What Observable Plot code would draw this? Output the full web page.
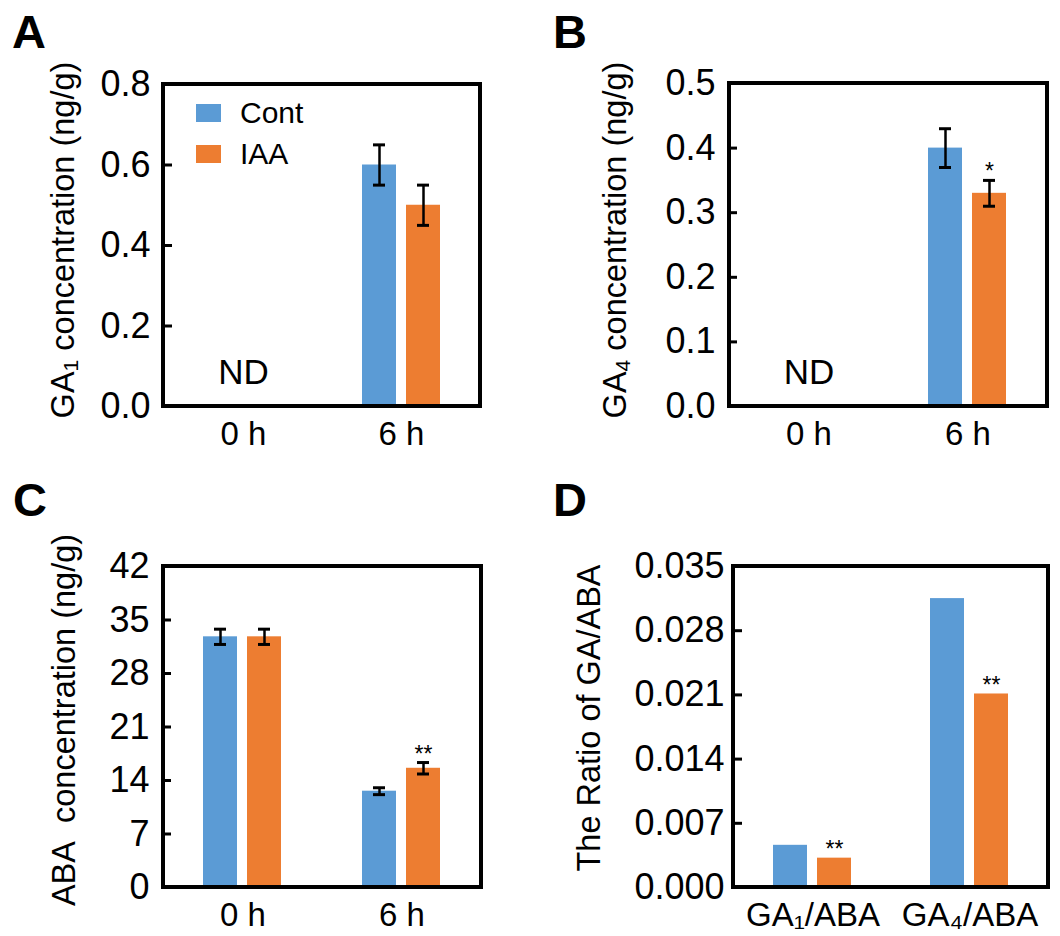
<!DOCTYPE html>
<html>
<head>
<meta charset="utf-8">
<script src="https://cdn.jsdelivr.net/npm/d3@7"></script>
<script src="https://cdn.jsdelivr.net/npm/@observablehq/plot@0.6"></script>
<style>
  html, body { margin: 0; padding: 0; background: #fff; }
  #root { position: relative; width: 1060px; height: 936px; background: #fff; font-family: "Liberation Sans", Arial, sans-serif; color: #000; overflow: hidden; }
  .panel { position: absolute; }
  .letter { position: absolute; font-weight: bold; font-size: 47px; line-height: 1; }
  .ylab { position: absolute; font-size: 32.5px; white-space: nowrap; transform: translate(-50%, -50%) rotate(-90deg); line-height: 1; }
  .legend { position: absolute; font-size: 30px; line-height: 1; }
  .legend .row { display: flex; align-items: center; height: 41px; }
  .legend .sw { width: 25px; height: 18px; margin-right: 19px; }
</style>
</head>
<body>
<div id="root"></div>
<script>
// ---------- data ----------
const seriesNames = ["Cont", "IAA"];
const seriesColors = ["#5B9BD5", "#ED7D31"];
const timeGroups = ["0 h", "6 h"];

// Panel A: GA1 concentration (ng/g); 0 h not detected (ND)
const gaGroups = ["6 h", "6 h"];
const gaSeries = ["Cont", "IAA"];
const ga1Mean = [0.60, 0.50];
const ga1Err = [0.05, 0.05];
const ga1Sig = ["", ""];
const ga1Ticks = [0, 0.2, 0.4, 0.6, 0.8];

// Panel B: GA4 concentration (ng/g); 0 h not detected (ND)
const ga4Mean = [0.40, 0.33];
const ga4Err = [0.03, 0.02];
const ga4Sig = ["", "*"];
const ga4Ticks = [0, 0.1, 0.2, 0.3, 0.4, 0.5];

// Panel C: ABA concentration (ng/g)
const abaGroups = ["0 h", "0 h", "6 h", "6 h"];
const abaSeries = ["Cont", "IAA", "Cont", "IAA"];
const abaMean = [32.8, 32.8, 12.6, 15.6];
const abaErr = [1.0, 1.0, 0.45, 0.75];
const abaSig = ["", "", "", "**"];
const abaTicks = [0, 7, 14, 21, 28, 35, 42];

// Panel D: ratio of GA/ABA
const ratioGroupNames = ["GA\u2081/ABA", "GA\u2084/ABA"];
const ratioGroups = ["GA\u2081/ABA", "GA\u2081/ABA", "GA\u2084/ABA", "GA\u2084/ABA"];
const ratioSeries = ["Cont", "IAA", "Cont", "IAA"];
const ratioMean = [0.0046, 0.0032, 0.0315, 0.0211];
const ratioSig = ["", "**", "", "**"];
const ratioTicks = [0, 0.007, 0.014, 0.021, 0.028, 0.035];

function rows(groups, series, mean, err, sig) {
  return groups.map((g, i) => ({group: g, series: series[i], mean: mean[i], err: err ? err[i] : null, sig: sig[i]}));
}

const root = document.getElementById("root");

function panel(cfg) {
  const {left, top, width, height, margin, data, groups, ticks, fmt, nd, pad} = cfg;
  const marks = [
    Plot.barY(data, {fx: "group", x: "series", y: "mean", fill: "series"}),
  ];
  const withErr = data.filter(d => d.err != null);
  if (withErr.length) {
    marks.push(
      Plot.ruleX(withErr, {fx: "group", x: "series", y1: d => d.mean - d.err, y2: d => d.mean + d.err, stroke: "#000", strokeWidth: 2.5}),
      Plot.tickY(withErr, {fx: "group", x: "series", y: d => d.mean - d.err, stroke: "#000", strokeWidth: 3, insetLeft: 11, insetRight: 11}),
      Plot.tickY(withErr, {fx: "group", x: "series", y: d => d.mean + d.err, stroke: "#000", strokeWidth: 3, insetLeft: 11, insetRight: 11})
    );
  }
  const sigRows = data.filter(d => d.sig);
  marks.push(
    Plot.text(sigRows, {fx: "group", x: "series", y: d => d.mean + (d.err || 0), text: "sig", lineAnchor: "bottom", dy: -1, fontSize: 23, fill: "#000"})
  );
  if (nd) {
    marks.push(Plot.text([{group: nd, label: "ND"}], {fx: "group", text: "label", frameAnchor: "bottom", dy: -34, lineAnchor: "middle", fontSize: 35, fill: "#000"}));
  }
  marks.push(
    Plot.axisY({ticks, tickSize: 0, tickPadding: pad, tickFormat: fmt, fontSize: 36, label: null}),
    Plot.axisY({ticks, tickSize: -8, tickFormat: () => "", strokeWidth: 3, label: null}),
    Plot.axisFx({anchor: "bottom", tickSize: 0, tickPadding: 15, fontSize: 33, label: null})
  );
  const svg = Plot.plot({
    width, height,
    marginLeft: margin[3], marginTop: margin[0], marginRight: margin[1], marginBottom: margin[2],
    style: {fontFamily: "'Liberation Sans', Arial, sans-serif", color: "#000", background: "#fff", overflow: "visible"},
    fx: {domain: groups, padding: 0, label: null},
    x: {domain: seriesNames, paddingInner: 0.222, paddingOuter: 0.878, axis: null},
    y: {domain: [ticks[0], ticks[ticks.length - 1]], label: null},
    color: {domain: seriesNames, range: seriesColors},
    marks
  });
  // box around plotting area
  d3.select(svg).append("rect")
    .attr("x", margin[3]).attr("y", margin[0])
    .attr("width", width - margin[1] - margin[3])
    .attr("height", height - margin[0] - margin[2])
    .attr("fill", "none").attr("stroke", "#000").attr("stroke-width", 4);
  const div = document.createElement("div");
  div.className = "panel";
  div.style.left = left + "px";
  div.style.top = top + "px";
  div.appendChild(svg);
  root.appendChild(div);
}

function addText(cls, html, x, y) {
  const d = document.createElement("div");
  d.className = cls;
  d.innerHTML = html;
  d.style.left = x + "px";
  d.style.top = y + "px";
  root.appendChild(d);
  return d;
}

// A
panel({left: 0, top: 0, width: 530, height: 470, margin: [84, 50, 64, 163], pad: 14,
  data: rows(gaGroups, gaSeries, ga1Mean, ga1Err, ga1Sig), groups: timeGroups, ticks: ga1Ticks, fmt: d3.format(".1f"), nd: "0 h"});
// B
panel({left: 530, top: 0, width: 530, height: 470, margin: [83, 13, 64, 199], pad: 14,
  data: rows(gaGroups, gaSeries, ga4Mean, ga4Err, ga4Sig), groups: timeGroups, ticks: ga4Ticks, fmt: d3.format(".1f"), nd: "0 h"});
// C
panel({left: 0, top: 470, width: 530, height: 466, margin: [96, 49, 49, 163], pad: 14,
  data: rows(abaGroups, abaSeries, abaMean, abaErr, abaSig), groups: timeGroups, ticks: abaTicks, fmt: d3.format("d")});
// D
panel({left: 530, top: 470, width: 530, height: 466, margin: [96, 12, 49, 203], pad: 10,
  data: rows(ratioGroups, ratioSeries, ratioMean, null, ratioSig), groups: ratioGroupNames, ticks: ratioTicks, fmt: d3.format(".3f")});

// panel letters
addText("letter", "A", 12, 8);
addText("letter", "B", 553, 8);
addText("letter", "C", 13, 476);
addText("letter", "D", 553, 476);

// y-axis titles
addText("ylab", "GA<sub style='font-size:21px;vertical-align:-4px'>1</sub> concentration (ng/g)", 64, 240);
addText("ylab", "GA<sub style='font-size:21px;vertical-align:-4px'>4</sub> concentration (ng/g)", 616, 240);
addText("ylab", "ABA&nbsp; concentration (ng/g)", 64, 720);
addText("ylab", "The Ratio of GA/ABA", 589, 718);

// legend (panel A)
const lg = addText("legend", "", 196, 92);
seriesNames.forEach((s, i) => {
  const r = document.createElement("div");
  r.className = "row";
  r.innerHTML = `<span class="sw" style="background:${seriesColors[i]}"></span><span>${s}</span>`;
  lg.appendChild(r);
});
</script>
</body>
</html>
